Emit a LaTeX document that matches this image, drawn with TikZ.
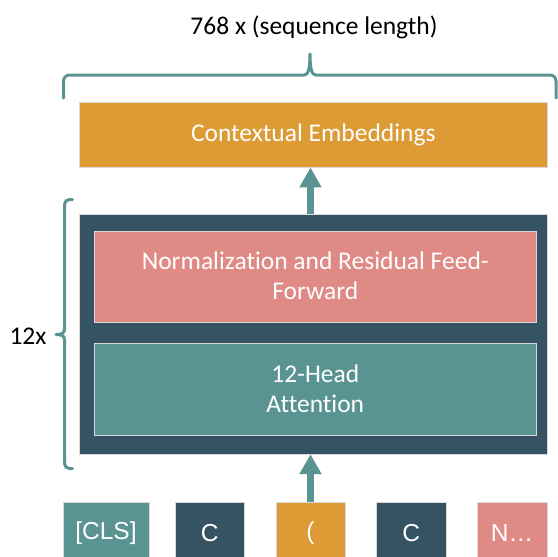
\documentclass[tikz,border=0pt]{standalone}
\usepackage{fontspec}
\setmainfont{Carlito}[Ligatures=NoCommon]
\newfontfamily\tokfont{Liberation Sans}
\usetikzlibrary{arrows.meta}
\definecolor{cOrange}{RGB}{221,155,53}
\definecolor{cDark}{RGB}{54,83,100}
\definecolor{cPink}{RGB}{224,138,134}
\definecolor{cTeal}{RGB}{90,148,146}
\begin{document}
\begin{tikzpicture}[x=1pt,y=-1pt,
  box/.style={inner sep=0pt, draw=white!85!black, line width=0.4pt, text=white, align=center,
    font=\fontsize{25.5}{30}\selectfont},
  tok/.style={inner sep=0pt, draw=white!85!black, line width=0.4pt, text=white,
    minimum height=62.6pt, font=\tokfont\fontsize{24.5}{28}\selectfont},
  arr/.style={draw=cTeal, line width=7pt, -{Triangle[width=21pt,length=20pt]}},
  brc/.style={draw=cTeal, line width=3pt, line cap=round, line join=round},
  lbl/.style={inner sep=0pt, text=black, font=\fontsize{25.5}{30}\selectfont}]
\useasboundingbox (0,0) rectangle (558,557);
\clip (0,0) rectangle (558,557);
% boxes
\node[box, fill=cOrange, minimum width=468pt, minimum height=65.5pt] (ctx) at (313.3,134.5) {Contextual Embeddings};
\node[box, fill=cDark, minimum width=468pt, minimum height=240pt] (block) at (313.3,334) {};
\node[box, fill=cPink, minimum width=442pt, minimum height=91pt] (ffn) at (315.3,276.2) {Normalization and Residual Feed-\\Forward};
\node[box, fill=cTeal, minimum width=442pt, minimum height=91.7pt] (att) at (315.3,389.2) {12-Head\\Attention};
% tokens
\node[tok, fill=cTeal, minimum width=85.5pt] (tok1) at (106,533) {[CLS]};
\node[tok, fill=cDark, minimum width=69.8pt] (tok2) at (209.6,533) {C};
\node[tok, fill=cOrange, minimum width=69pt] (tok3) at (310.5,533) {(};
\node[tok, fill=cDark, minimum width=69.5pt] (tok4) at (411.2,533) {C};
\node[tok, fill=cPink, minimum width=70pt] (tok5) at (512,533) {N\ldots};
% arrows
\draw[arr] (tok3.north) -- (tok3.north |- block.south);
\draw[arr] (block.north -| tok3) -- (ctx.south -| tok3);
% labels
\node[lbl] (seqlen) at (314,27) {768 x (sequence length)};
\node[lbl] (times) at (28,336) {12x};
% top brace
\draw[brc] (63.5,98) -- (63.5,81) arc[start angle=180,end angle=270,radius=6] -- (304,75)
  .. controls (308,75) and (310,70) .. (310,54)
  .. controls (310,70) and (312,75) .. (316,75) -- (550,75)
  arc[start angle=270,end angle=360,radius=6] -- (556,98);
% left brace
\draw[brc] (72.5,199.5) -- (69.5,199.5) arc[start angle=270,end angle=180,radius=5] -- (64.5,329)
  .. controls (64.5,333) and (62,334.5) .. (56,334.5)
  .. controls (62,334.5) and (64.5,336) .. (64.5,340) -- (64.5,463.5)
  arc[start angle=180,end angle=90,radius=5] -- (72.5,468.5);
\end{tikzpicture}
\end{document}
